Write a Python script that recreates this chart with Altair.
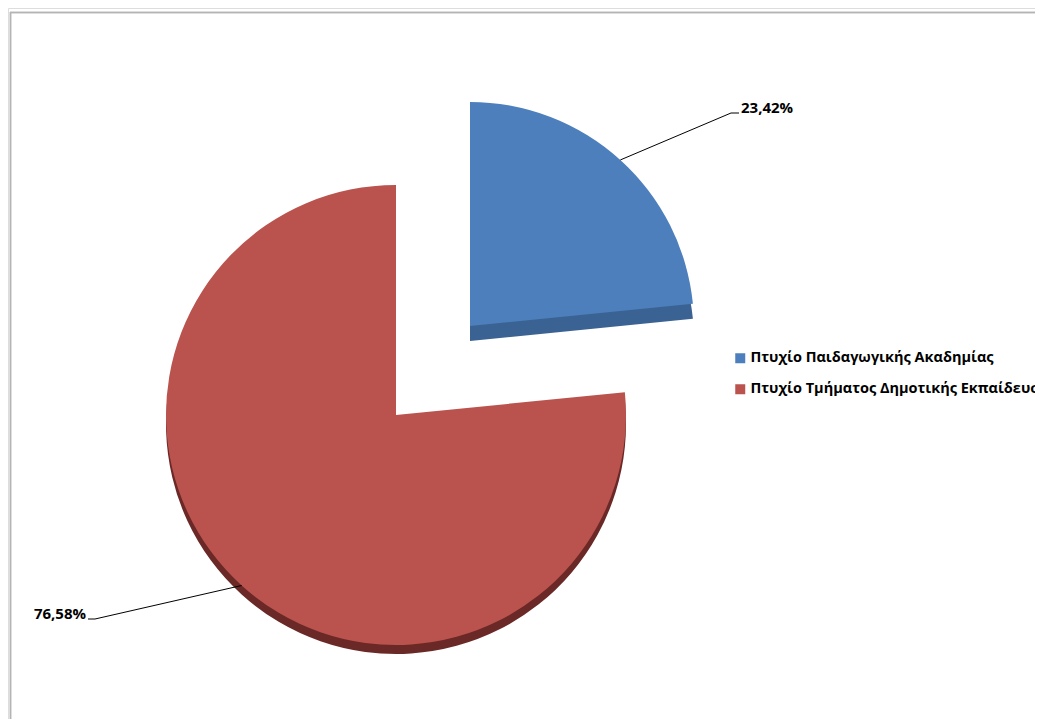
import math
import altair as alt
import pandas as pd

# ---- data ----
categories = ["Πτυχίο Παιδαγωγικής Ακαδημίας", "Πτυχίο Τμήματος Δημοτικής Εκπαίδευσης"]
values = [23.42, 76.58]
face_colors = ["#4C7FBC", "#BA524E"]
side_colors = ["#3A6292", "#6A2826"]

# ---- layout (plot px) ----
W, H = 1027, 711
FONT = "Open Sans"
centers = [(462, 318), (388, 407)]   # blue slice exploded, red slice
radii = [224, 230]
thick = [15, 9]

total = sum(values)
starts, ends = [], []
acc = 0.0
for v in values:
    starts.append(acc)
    acc += v
    ends.append(acc)

df = pd.DataFrame({"category": categories, "value": values, "start": starts, "end": ends})

theta_scale = alt.Scale(domain=[0, total], range=[0, 2 * math.pi])
color_scale = alt.Scale(domain=categories, range=face_colors)

layers = []
# side (3D thickness) layers first
for i, cat in enumerate(categories):
    cx, cy = centers[i]
    layers.append(
        alt.Chart(df).transform_filter(alt.datum.category == cat)
        .mark_arc(radius=radii[i], color=side_colors[i])
        .encode(theta=alt.Theta("start:Q", scale=theta_scale), theta2="end:Q",
                x=alt.value(cx), y=alt.value(cy + thick[i]))
    )
# faces
for i, cat in enumerate(categories):
    cx, cy = centers[i]
    layers.append(
        alt.Chart(df).transform_filter(alt.datum.category == cat)
        .mark_arc(radius=radii[i])
        .encode(theta=alt.Theta("start:Q", scale=theta_scale), theta2="end:Q",
                x=alt.value(cx), y=alt.value(cy),
                color=alt.Color("category:N", scale=color_scale, sort=categories,
                                legend=alt.Legend(title=None, orient="none", legendX=725, legendY=343,
                                                  symbolType="square", symbolSize=100,
                                                  symbolStrokeWidth=0, labelFont=FONT,
                                                  labelFontSize=14.5, labelFontWeight="bold",
                                                  labelColor="#000000", labelLimit=600,
                                                  labelOffset=3, rowPadding=16, padding=0)))
    )

# ---- labels with leader lines ----
label_anchor = [(723, 105, 731, 733, "left"), (87, 611, 80, 78, "right")]
seg_rows, txt_rows = [], []
for i, v in enumerate(values):
    cx, cy = centers[i]
    mid = (starts[i] + ends[i]) / 2 / total * 2 * math.pi
    sx = cx + radii[i] * math.sin(mid)
    sy = cy - radii[i] * math.cos(mid)
    ex, ey, hx, tx, al = label_anchor[i]
    seg_rows.append({"x": sx, "y": sy, "x2": ex, "y2": ey})
    seg_rows.append({"x": ex, "y": ey, "x2": hx, "y2": ey})
    txt_rows.append({"x": tx, "y": ey, "label": f"{v:.2f}".replace(".", ",") + "%", "align": al})

seg_df = pd.DataFrame(seg_rows)
txt_df = pd.DataFrame(txt_rows)
xs = alt.Scale(domain=[0, W], range=[0, W])
ys = alt.Scale(domain=[0, H], range=[0, H])

layers.append(
    alt.Chart(seg_df).mark_rule(color="#000000", strokeWidth=1)
    .encode(x=alt.X("x:Q", scale=xs, axis=None), y=alt.Y("y:Q", scale=ys, axis=None),
            x2="x2:Q", y2="y2:Q")
)
for al in ["left", "right"]:
    layers.append(
        alt.Chart(txt_df).transform_filter(alt.datum.align == al)
        .mark_text(align=al, baseline="alphabetic", font=FONT, fontSize=15,
                   fontWeight="bold", color="#000000")
        .encode(x=alt.X("x:Q", scale=xs, axis=None), y=alt.Y("y:Q", scale=ys, axis=None),
                text="label:N")
    )

# ---- chart area border (top and left visible) ----
layers.append(alt.Chart(df).mark_rule(color="#B4B4B4", strokeWidth=1.5)
              .encode(x=alt.value(2), x2=alt.value(W + 30), y=alt.value(4.5)))
layers.append(alt.Chart(df).mark_rule(color="#B4B4B4", strokeWidth=1.5)
              .encode(x=alt.value(2.5), y=alt.value(4), y2=alt.value(H + 30)))

chart = (
    alt.layer(*layers)
    .properties(width=W, height=H, padding=0, autosize=alt.AutoSizeParams(type="none"))
    .configure_view(stroke=None)
    .configure(background="#FFFFFF")
)

chart.save("out.html", embed_options={"renderer": "svg", "actions": False})
